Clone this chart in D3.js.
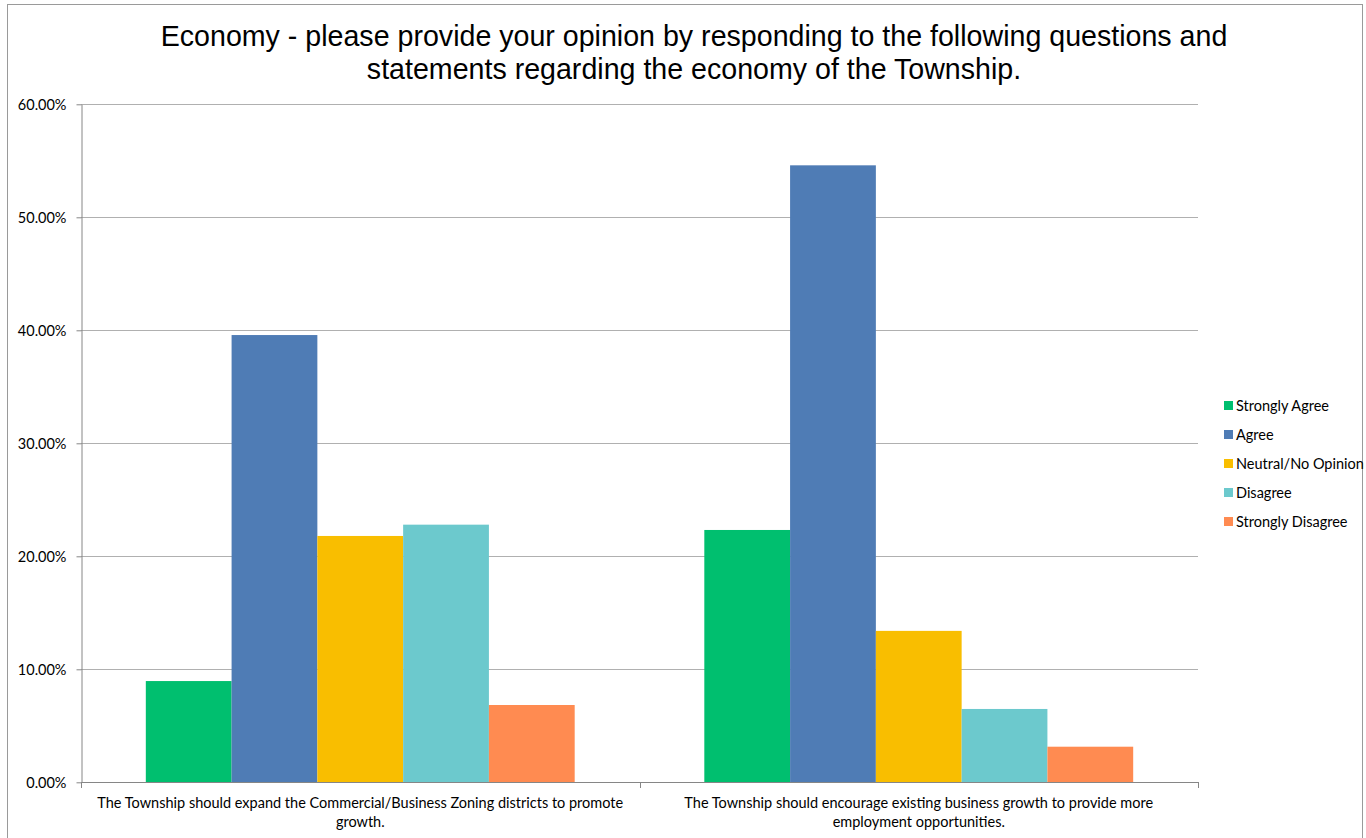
<!DOCTYPE html>
<html><head><meta charset="utf-8">
<script src="https://cdn.jsdelivr.net/npm/d3@7"></script>
<style>body{margin:0;background:#fff;}svg{display:block;}</style>
</head><body>
<script>
const categories = [
  "The Township should expand the Commercial/Business Zoning districts to promote growth.",
  "The Township should encourage existing business growth to provide more employment opportunities."
];
const seriesNames = ["Strongly Agree", "Agree", "Neutral/No Opinion", "Disagree", "Strongly Disagree"];
const seriesColors = ["#00bf6f", "#4f7cb5", "#f9be00", "#6cc9cd", "#ff8b51"];
const stronglyAgree = [0.0896, 0.2233];
const agree = [0.3958, 0.5460];
const neutral = [0.2180, 0.1340];
const disagree = [0.2280, 0.0649];
const stronglyDisagree = [0.0684, 0.0315];
const yTicks = [0, 0.1, 0.2, 0.3, 0.4, 0.5, 0.6];
const titleLines = ["Economy - please provide your opinion by responding to the following questions and",
                    "statements regarding the economy of the Township."];

(function () {
const seriesValues = [stronglyAgree, agree, neutral, disagree, stronglyDisagree];
const W = 1366, H = 838;
const svg = d3.select("body").append("svg").attr("width", W).attr("height", H);

svg.append("rect").attr("x", 7.5).attr("y", 4.5).attr("width", 1355).attr("height", 850)
  .attr("fill", "#fff").attr("stroke", "#9a9a9a").attr("stroke-width", 1);

const pLeft = 81, pRight = 1198, pTop = 104.3, pBottom = 782.3;
const x0 = d3.scaleBand().domain(categories).range([pLeft, pRight]).paddingInner(0).paddingOuter(0);
const x1 = d3.scaleBand().domain(seriesNames).range([0, x0.bandwidth()]).paddingOuter(0.7556).paddingInner(0);
const y = d3.scaleLinear().domain([0, 0.6]).range([pBottom, pTop]);

// title
svg.append("text").attr("x", 694).attr("y", 46).attr("text-anchor", "middle")
  .style("font-family", "'Liberation Sans', Arial, sans-serif").style("font-size", "28.6px").attr("fill", "#000")
  .selectAll("tspan").data(titleLines).join("tspan")
  .attr("x", 694).attr("dy", (d, i) => i === 0 ? 0 : 33).text(d => d);

// gridlines
svg.append("g").selectAll("line").data(yTicks.filter(d => d > 0)).join("line")
  .attr("x1", pLeft).attr("x2", pRight).attr("y1", d => Math.round(y(d)) + 0.5).attr("y2", d => Math.round(y(d)) + 0.5)
  .attr("stroke", "#b0b0b0").attr("stroke-width", 1);

// bars
const groups = svg.append("g").selectAll("g").data(seriesNames).join("g")
  .attr("fill", (d, i) => seriesColors[i]);
groups.selectAll("rect").data((s, si) => categories.map((c, ci) => ({c, s, v: seriesValues[si][ci]})))
  .join("rect")
  .attr("x", d => x0(d.c) + x1(d.s))
  .attr("width", x1.bandwidth())
  .attr("y", d => y(d.v))
  .attr("height", d => y(0) - y(d.v));

// y axis
const yAxis = d3.axisLeft(y).tickValues(yTicks).tickFormat(d3.format(".2%")).tickSize(5).tickSizeOuter(0);
const gy = svg.append("g").attr("transform", `translate(${pLeft + 0.5},0)`).call(yAxis);
gy.select(".domain").attr("stroke", "#868686");
gy.selectAll(".tick line").attr("stroke", "#868686");
gy.selectAll(".tick text").attr("x", -15).attr("dy", "0.35em")
  .style("font-family", "Lato, 'Open Sans', sans-serif").style("font-size", "14.5px").attr("fill", "#000");

// x axis baseline and category ticks
const gx = svg.append("g");
gx.append("line").attr("x1", pLeft).attr("x2", pRight + 0.5).attr("y1", Math.round(pBottom) + 0.5).attr("y2", Math.round(pBottom) + 0.5)
  .attr("stroke", "#868686");
const boundaries = [pLeft, ...categories.map(c => x0(c) + x0.bandwidth())];
gx.selectAll("line.tk").data(boundaries).join("line").attr("class", "tk")
  .attr("x1", d => Math.round(d) + 0.5).attr("x2", d => Math.round(d) + 0.5)
  .attr("y1", Math.round(pBottom)).attr("y2", Math.round(pBottom) + 6).attr("stroke", "#868686");

// category labels with wrapping
function wrapLines(text, maxW, font) {
  const ctx = document.createElement("canvas").getContext("2d");
  ctx.font = font;
  const words = text.split(" ");
  const lines = [];
  let cur = "";
  for (const w of words) {
    const t = cur ? cur + " " + w : w;
    if (ctx.measureText(t).width > maxW && cur) { lines.push(cur); cur = w; } else cur = t;
  }
  if (cur) lines.push(cur);
  return lines;
}
const labFont = "14.5px Lato";
categories.forEach(c => {
  const lines = wrapLines(c, 545, labFont);
  const cx = x0(c) + x0.bandwidth() / 2;
  svg.append("text").attr("x", cx).attr("y", 808).attr("text-anchor", "middle")
    .style("font-family", "Lato, sans-serif").style("font-size", "14.5px").attr("fill", "#000")
    .selectAll("tspan").data(lines).join("tspan").attr("x", cx).attr("dy", (d, i) => i === 0 ? 0 : 19).text(d => d);
});

// legend
const lg = svg.append("g").selectAll("g").data(seriesNames).join("g")
  .attr("transform", (d, i) => `translate(1224,${406 + i * 29})`);
lg.append("rect").attr("x", 0).attr("y", -5).attr("width", 9).attr("height", 9).attr("fill", (d, i) => seriesColors[i]);
lg.append("text").attr("x", 12).attr("y", 0).attr("dy", "0.35em")
  .style("font-family", "Lato, sans-serif").style("font-size", "14.5px").attr("fill", "#000").text(d => d);
})();
</script>
</body></html>
